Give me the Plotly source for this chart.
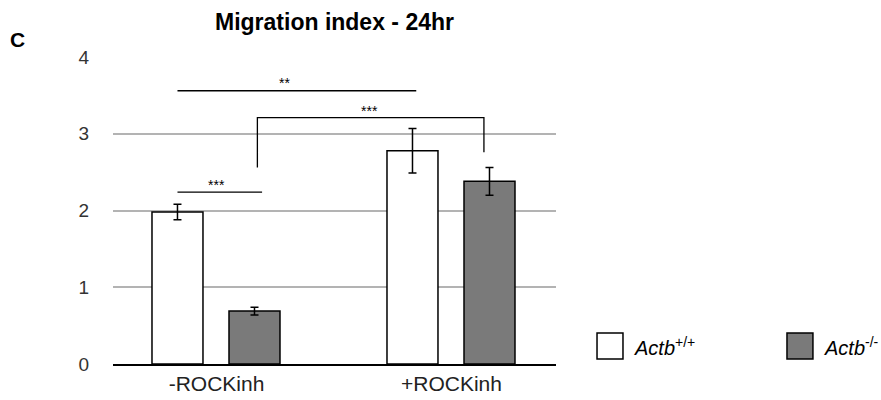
import plotly.graph_objects as go

categories = ["-ROCKinh", "+ROCKinh"]
series_names = ["<i>Actb</i><sup>+/+</sup>", "<i>Actb</i><sup>-/-</sup>"]
wt_values = [1.98, 2.78]
wt_errors = [0.10, 0.29]
ko_values = [0.69, 2.38]
ko_errors = [0.05, 0.18]
y_ticks = [0, 1, 2, 3, 4]

FONT = "Liberation Sans, Arial, Helvetica, sans-serif"

fig = go.Figure()
fig.add_trace(go.Bar(
    x=categories, y=wt_values, name=series_names[0],
    width=0.217, offset=-0.2745,
    marker=dict(color="white", line=dict(color="black", width=1.5)),
    error_y=dict(type="data", array=wt_errors, color="black", thickness=1.5, width=4),
    showlegend=False,
))
fig.add_trace(go.Bar(
    x=categories, y=ko_values, name=series_names[1],
    width=0.217, offset=0.0532,
    marker=dict(color="#7a7a7a", line=dict(color="black", width=1.5)),
    error_y=dict(type="data", array=ko_errors, color="black", thickness=1.5, width=4),
    showlegend=False,
))

line_style = dict(color="black", width=1.3)
# significance lines
fig.add_shape(type="line", x0=-0.166, x1=0.85, y0=3.56, y1=3.56, xref="x", yref="y", line=line_style)
fig.add_shape(type="path", path="M 0.174,2.56 L 0.174,3.21 L 1.138,3.21 L 1.138,2.76",
              xref="x", yref="y", line=line_style)
fig.add_shape(type="line", x0=-0.166, x1=0.194, y0=2.24, y1=2.24, xref="x", yref="y", line=line_style)

star_font = dict(family=FONT, size=14, color="black")
fig.add_annotation(x=0.29, y=3.66, text="**", showarrow=False, xref="x", yref="y", font=star_font)
fig.add_annotation(x=0.653, y=3.30, text="***", showarrow=False, xref="x", yref="y", font=star_font)
fig.add_annotation(x=0.002, y=2.33, text="***", showarrow=False, xref="x", yref="y", font=star_font)

# panel letter
fig.add_annotation(x=(17 - 113) / 443, y=(364 - 40) / 307, text="<b>C</b>", showarrow=False,
                   xref="paper", yref="paper", xanchor="center", yanchor="middle",
                   font=dict(family=FONT, size=21, color="black"))

# manual legend
legend_colors = ["white", "#7a7a7a"]
box_x = [1.0926, 1.5214]
for name, col, bx in zip(series_names, legend_colors, box_x):
    fig.add_shape(type="rect", x0=bx, x1=bx + 0.0586, y0=0.0163, y1=0.101,
                  xref="paper", yref="paper",
                  fillcolor=col, line=dict(color="black", width=1.5))
    fig.add_annotation(x=bx + 0.079, y=0.0586, text=name, showarrow=False,
                       xref="paper", yref="paper", xanchor="left", yanchor="middle",
                       font=dict(family=FONT, size=20, color="black"))

fig.update_layout(
    width=881, height=400,
    margin=dict(l=113, r=325, t=57, b=36),
    paper_bgcolor="white", plot_bgcolor="white",
    title=dict(text="<b>Migration index - 24hr</b>", x=0.5, xref="paper",
               y=1 - 22 / 400, yanchor="middle",
               font=dict(family=FONT, size=23, color="black")),
    barmode="overlay",
    showlegend=False,
    xaxis=dict(type="category", range=[-0.4404, 1.4447], showgrid=False, automargin=False,
               showline=True, linecolor="black", linewidth=2, ticks="",
               tickfont=dict(family=FONT, size=21, color="#222")),
    yaxis=dict(range=[0, 4], tickvals=y_ticks, showgrid=True, gridcolor="#b3b3b3",
               gridwidth=2, zeroline=False, showline=False, ticks="", automargin=False,
               ticklabelstandoff=23,
               tickfont=dict(family=FONT, size=19, color="#333")),
)

fig.write_html("out.html", config={"displayModeBar": False},
               post_script="document.body.style.margin='0';")
